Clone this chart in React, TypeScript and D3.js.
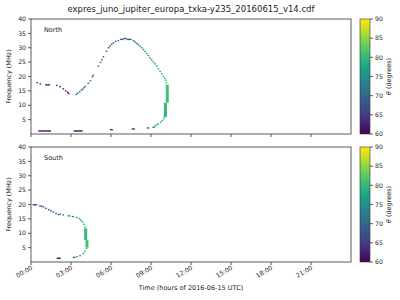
import React from "react";
import * as d3 from "d3";

// ---- data ----
const title = "expres_juno_jupiter_europa_txka-y235_20160615_v14.cdf";
const panels = ["North", "South"];
const xTicks = [0, 3, 6, 9, 12, 15, 18, 21];
const xTickLabels = ["00:00", "03:00", "06:00", "09:00", "12:00", "15:00", "18:00", "21:00"];
const yTicks = [5, 10, 15, 20, 25, 30, 35, 40];
const cTicks = [60, 65, 70, 75, 80, 85, 90];

// [time (h), freq (MHz), theta (deg)]
const northPoints: [number, number, number][] = [
  [0.47, 17.85, 64], [0.7, 17.4, 64], [1.93, 16.9, 63], [2.17, 16.5, 63], [2.42, 15.7, 63],
  [2.6, 15.0, 63], [2.75, 14.5, 62], [2.83, 14.1, 62],
  [3.4, 13.75, 71], [3.5, 14.2, 71], [3.65, 14.7, 71], [3.78, 15.3, 71], [3.87, 15.6, 71],
  [3.98, 16.1, 71], [4.07, 16.5, 71], [4.3, 17.6, 71], [4.45, 18.5, 71], [4.6, 19.9, 71],
  [4.67, 20.4, 71], [5.05, 23.6, 70], [5.22, 24.9, 70], [5.32, 25.8, 70], [5.43, 26.9, 70],
  [5.67, 28.8, 69], [5.83, 30.0, 68], [5.92, 30.6, 68], [6.05, 31.2, 68], [6.17, 31.7, 68],
  [6.35, 32.2, 67], [6.55, 32.5, 67],
  [7.68, 32.5, 71], [7.8, 32.0, 72], [7.93, 31.5, 72], [8.05, 31.1, 72], [8.18, 30.6, 73],
  [8.3, 30.0, 73], [8.43, 29.4, 74], [8.55, 28.7, 74], [8.68, 28.0, 75], [8.8, 27.3, 75],
  [8.93, 26.5, 75], [9.05, 25.8, 76], [9.18, 25.1, 76], [9.3, 24.4, 76], [9.43, 23.6, 77],
  [9.55, 22.7, 77], [9.68, 21.8, 78], [9.8, 21.0, 78], [9.93, 20.1, 79], [10.02, 19.4, 79],
  [10.1, 18.7, 80], [10.15, 17.8, 80],
  [9.3, 2.8, 78], [9.43, 3.2, 79], [9.55, 3.5, 79], [9.73, 4.1, 80], [9.85, 4.6, 80],
  [9.93, 5.25, 80], [10.0, 5.9, 80],
];
// [t0, t1, freq, theta]
const northBars: [number, number, number, number][] = [
  [1.05, 1.43, 17.1, 64], [0.55, 1.5, 1.05, 61], [3.2, 3.87, 1.05, 61],
  [5.93, 6.13, 1.5, 61], [6.68, 6.93, 32.9, 68], [6.93, 7.18, 33.2, 68],
  [7.18, 7.55, 32.9, 69], [7.55, 7.8, 1.75, 65], [8.68, 8.88, 2.1, 74], [9.1, 9.3, 2.35, 76],
];
// [t, f0, f1, theta]
const northVert: [number, number, number, number][] = [
  [10.22, 10.85, 17.2, 81], [10.08, 5.9, 10.85, 80],
];

const southPoints: [number, number, number][] = [
  [0.67, 19.5, 67], [0.8, 19.4, 67], [0.93, 19.15, 67], [1.12, 18.65, 68], [1.33, 18.2, 68],
  [1.5, 17.8, 68], [1.68, 17.4, 69], [1.88, 16.9, 69], [2.05, 16.5, 69], [2.18, 16.6, 70],
  [2.42, 16.4, 70], [3.43, 15.5, 75], [3.63, 15.1, 76], [3.75, 14.5, 77], [3.87, 13.95, 78],
  [3.98, 13.1, 79], [4.05, 12.2, 80], [4.17, 4.75, 79], [4.05, 3.8, 78], [3.93, 3.0, 77],
  [3.68, 2.2, 75], [3.43, 1.85, 73],
];
const southBars: [number, number, number, number][] = [
  [0.12, 0.47, 19.9, 67], [2.75, 2.93, 16.05, 72], [3.05, 3.23, 15.8, 73],
  [3.13, 3.33, 1.6, 71], [1.93, 2.23, 1.3, 61],
];
const southVert: [number, number, number, number][] = [
  [4.1, 7.6, 11.7, 80], [4.2, 5.0, 7.6, 81],
];

const panelPoints = [northPoints, southPoints];
const panelBars = [northBars, southBars];
const panelVert = [northVert, southVert];

const W = 400, H = 300;
const left = 31, right = 351;
const tops = [19, 147];
const plotH = 115;
const cbX = 360, cbW = 10;
const font = "DejaVu Sans, sans-serif";

export default function App() {
  const x = d3.scaleLinear().domain([0, 24]).range([left, right]);
  const color = (v: number) => d3.interpolateViridis((v - 60) / 30);
  const gradId = "viridisGrad";
  const stops = d3.range(0, 1.0001, 0.05);

  return (
    <svg width={W} height={H} style={{ position: "absolute", left: 0, top: 0, background: "#fff" }}
      fontFamily={font}>
      <defs>
        <linearGradient id={gradId} x1="0" y1="1" x2="0" y2="0">
          {stops.map((s, i) => (
            <stop key={i} offset={s} stopColor={d3.interpolateViridis(s)} />
          ))}
        </linearGradient>
      </defs>
      <text x={(left + right) / 2} y={12} fontSize={8.5} textAnchor="middle" fill="#222">{title}</text>
      {panels.map((name, pi) => {
        const top = tops[pi];
        const y = d3.scaleLinear().domain([0, 40]).range([top + plotH, top]);
        const cb = d3.scaleLinear().domain([60, 90]).range([top + plotH, top]);
        const bottomPanel = pi === 1;
        return (
          <g key={name}>
            {/* data */}
            {panelBars[pi].map((b, i) => (
              <rect key={"b" + i} x={x(b[0])} y={y(b[2]) - 0.7} width={Math.max(x(b[1]) - x(b[0]), 1.6)}
                height={1.4} fill={color(b[3])} />
            ))}
            {panelVert[pi].map((v, i) => (
              <rect key={"v" + i} x={x(v[0]) - 1.5} y={y(v[2])} width={3}
                height={y(v[1]) - y(v[2])} fill={color(v[3])} />
            ))}
            {panelPoints[pi].map((p, i) => (
              <rect key={"p" + i} x={x(p[0]) - 0.8} y={y(p[1]) - 0.7} width={1.6} height={1.4}
                fill={color(p[2])} />
            ))}
            {/* frame */}
            <rect x={left} y={top} width={right - left} height={plotH} fill="none" stroke="#333" strokeWidth={0.8} />
            <text x={44} y={top + 13} fontSize={6.5} fill="#222">{name}</text>
            {/* y axis */}
            {yTicks.map((t) => (
              <g key={t}>
                <line x1={left - 3} x2={left} y1={y(t)} y2={y(t)} stroke="#333" strokeWidth={0.8} />
                <text x={left - 5} y={y(t) + 2.2} fontSize={6.2} textAnchor="end" fill="#222">{t}</text>
              </g>
            ))}
            <text transform={`translate(${11},${top + plotH / 2}) rotate(-90)`} fontSize={6.5}
              textAnchor="middle" fill="#222">Frequency (MHz)</text>
            {/* x ticks */}
            {xTicks.map((t, i) => (
              <g key={t}>
                <line x1={x(t)} x2={x(t)} y1={top + plotH} y2={top + plotH + 3} stroke="#333" strokeWidth={0.8} />
                {bottomPanel && (
                  <text transform={`translate(${x(t) + 2},${top + plotH + 7}) rotate(-30)`} fontSize={6.2}
                    textAnchor="end" fill="#222">{xTickLabels[i]}</text>
                )}
              </g>
            ))}
            {/* colorbar */}
            <rect x={cbX} y={top} width={cbW} height={plotH} fill={`url(#${gradId})`} stroke="#333" strokeWidth={0.6} />
            {cTicks.map((t) => (
              <g key={t}>
                <line x1={cbX + cbW} x2={cbX + cbW + 3} y1={cb(t)} y2={cb(t)} stroke="#333" strokeWidth={0.8} />
                <text x={cbX + cbW + 5} y={cb(t) + 2.2} fontSize={6.2} fill="#222">{t}</text>
              </g>
            ))}
            <text transform={`translate(${391},${top + plotH / 2}) rotate(-90)`} fontSize={6.5}
              textAnchor="middle" fill="#222"><tspan fontStyle="italic">θ</tspan> (degrees)</text>
          </g>
        );
      })}
      <text x={(left + right) / 2} y={290} fontSize={6.5} textAnchor="middle" fill="#222">
        Time (hours of 2016-06-15 UTC)
      </text>
    </svg>
  );
}
